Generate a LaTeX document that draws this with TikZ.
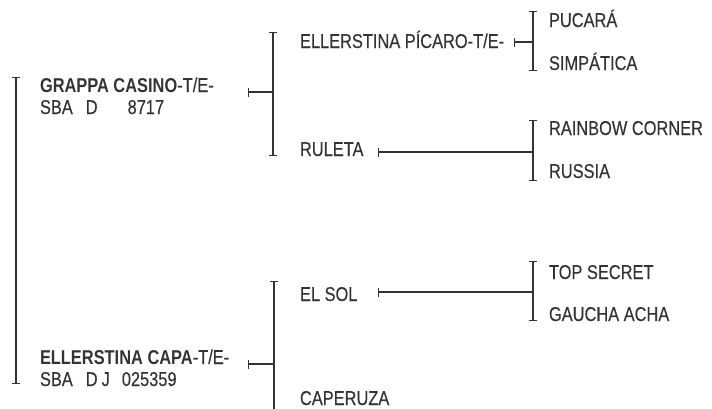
\documentclass[tikz,border=0pt]{standalone}
\usepackage{fontspec}
\setmainfont{Liberation Sans}[FakeStretch=0.82,UprightFeatures={FakeBold=0.3}]
\usepackage{xcolor}
\usepackage{tikz}
\usetikzlibrary{arrows.meta,positioning,calc}
\definecolor{pedgray}{HTML}{333333}
\tikzset{
  horse/.style={anchor=base west,inner sep=0pt,outer sep=0pt,text=pedgray,font=\fontsize{20}{22}\selectfont},
  pedline/.style={draw=pedgray,line width=1.2pt}
}

\begin{document}
\begin{tikzpicture}[
  x=1pt,
  y=-1pt,
  bracket/.style={
    pedline,
    {Bar[width=8pt]}-{Bar[width=8pt]}
  },
  link/.style={
    pedline,
    {Bar[width=9pt]}-
  }
]
  \useasboundingbox (0,0) rectangle (712,408);

  % --------------------------------------------------------------
  % The names, one generation per column.
  % --------------------------------------------------------------
  \node[horse] (sire)    at (40,92)  {{\bfseries GRAPPA CASINO}-T/E-};
  \node[horse] (sireReg) at (40,114) {SBA\hspace{13pt}D\hspace{30pt}8717};
  \node[horse] (dam)     at (40,364) {{\bfseries ELLERSTINA CAPA}-T/E-};
  \node[horse] (damReg)  at (40,386) {SBA\hspace{13pt}D\hspace{4pt}J\hspace{12pt}025359};

  \node[horse] (ss) at (300,48)  {ELLERSTINA PÍCARO-T/E-};
  \node[horse] (sd) at (300,156) {RULETA};
  \node[horse] (ds) at (300,301) {EL SOL};
  \node[horse] (dd) at (300,405) {CAPERUZA};

  \node[horse] (sss) at (549,27)  {PUCARÁ};
  \node[horse] (ssd) at (549,70)  {SIMPÁTICA};
  \node[horse] (sds) at (549,135) {RAINBOW CORNER};
  \node[horse] (sdd) at (549,178) {RUSSIA};
  \node[horse] (dss) at (549,279) {TOP SECRET};
  \node[horse] (dsd) at (549,321) {GAUCHA ACHA};

  % --------------------------------------------------------------
  % Ends of the brackets that join each pair of parents.
  % --------------------------------------------------------------
  \coordinate (bAt) at (16,77);   \coordinate (bAb) at (16,384);
  \coordinate (bBt) at (273,32);  \coordinate (bBb) at (273,156);
  \coordinate (bCt) at (274,281); \coordinate (bCb) at (274,445);
  \coordinate (bDt) at (533,11);  \coordinate (bDb) at (533,71);
  \coordinate (bEt) at (533,120); \coordinate (bEb) at (533,181);
  \coordinate (bFt) at (533,261); \coordinate (bFb) at (533,321);

  \foreach \b in {bA,bB,bC,bD,bE,bF}
    {\draw[bracket] (\b t) -- (\b b);}

  % --------------------------------------------------------------
  % Links from a horse to the bracket of its parents.
  % --------------------------------------------------------------
  \coordinate (tSire) at (248,92);
  \coordinate (tDam)  at (248,364);
  \coordinate (tSS)   at (514,42);
  \coordinate (tSD)   at (378,152);
  \coordinate (tDS)   at (378,292);

  \draw[link] (tSire) -- (tSire -| bBt);
  \draw[link] (tDam)  -- (tDam -| bCt);
  \draw[link] (tSS)   -- (tSS -| bDt);
  \draw[link] (tSD)   -- (tSD -| bEt);
  \draw[link] (tDS)   -- (tDS -| bFt);

\end{tikzpicture}
\end{document}
